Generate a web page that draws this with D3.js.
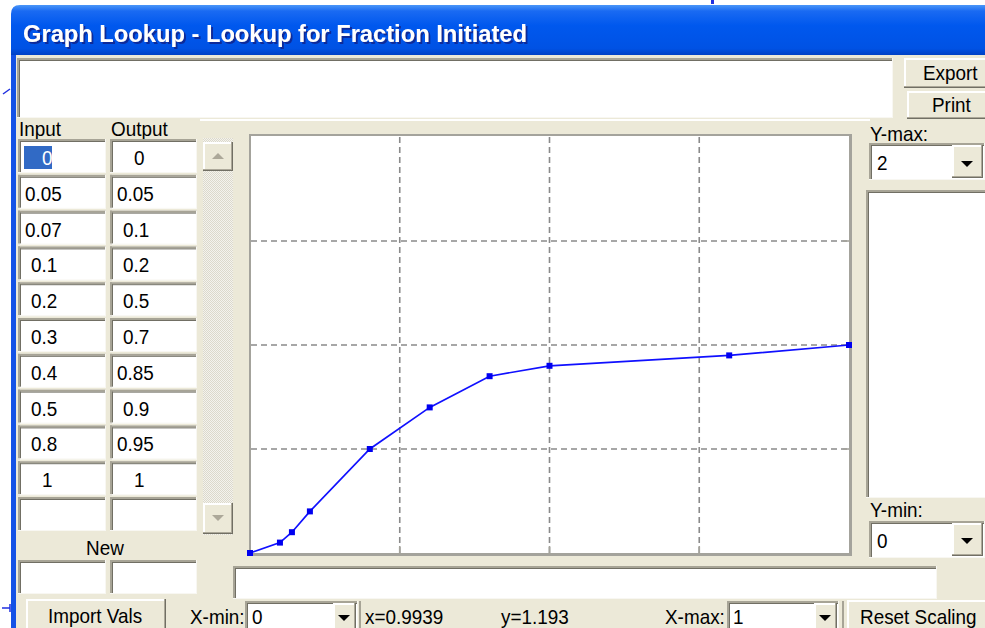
<!DOCTYPE html>
<html><head><meta charset="utf-8">
<script src="https://cdn.jsdelivr.net/npm/d3@7"></script>
<style>
html,body{margin:0;padding:0;background:#fff;overflow:hidden}
svg{display:block}
text{font-family:"Liberation Sans",Arial,sans-serif;font-size:21px;fill:#000}
</style></head><body>
<svg id="c" width="985" height="628"></svg>
<script>
// ---- data ----
const title = "Graph Lookup - Lookup for Fraction Initiated";
const inputs = [0, 0.05, 0.07, 0.1, 0.2, 0.3, 0.4, 0.5, 0.8, 1];
const outputs = [0, 0.05, 0.1, 0.2, 0.5, 0.7, 0.85, 0.9, 0.95, 1];
const xDomain = [0, 1];
const yDomain = [0, 2];
const xGrid = [0.25, 0.5, 0.75];
const yGrid = [0.5, 1, 1.5];
const xMinLabel = "0", xMaxLabel = "1", yMaxLabel = "2", yMinLabel = "0";
const readouts = ["x=0.9939", "y=1.193"];
const columnHeads = ["Input", "Output"];
const buttonLabels = ["Export", "Print", "Import Vals", "Reset Scaling"];
const fieldLabels = ["X-min:", "X-max:", "Y-max:", "Y-min:", "New"];

// ---- helpers ----
const svg = d3.select('#c');
const BG = '#ECE9D8';
const defs = svg.append('defs');

function R(x, y, w, h, fill) {
  return svg.append('rect').attr('x', x).attr('y', y).attr('width', w).attr('height', h).attr('fill', fill);
}
function T(x, y, s, o = {}) {
  const t = svg.append('text').attr('transform', `translate(${x},${y}) scale(${o.sx || 0.9},1)`).text(s);
  if (o.fill) t.style('fill', o.fill);
  if (o.size) t.style('font-size', o.size + 'px');
  if (o.weight) t.style('font-weight', o.weight);
  return t;
}
function sunken(x, y, w, h) {
  R(x, y, w, h, '#fff');
  R(x, y, w, 2, '#A7A496'); R(x, y, 2, h, '#A7A496');
  R(x + 2, y + 2, w - 3, 1, '#716F64'); R(x + 2, y + 2, 1, h - 3, '#716F64');
  R(x, y + h - 1, w, 1, '#F8F7F2'); R(x + w - 1, y, 1, h, '#F8F7F2');
}
function raised(x, y, w, h) {
  R(x, y, w, h, BG);
  R(x, y, w, 2, '#fff'); R(x, y, 2, h, '#fff');
  R(x, y + h - 2, w, 1, '#ACA899'); R(x + w - 2, y, 1, h, '#ACA899');
  R(x, y + h - 1, w, 1, '#716F64'); R(x + w - 1, y, 1, h, '#716F64');
}
function tri(cx, cy, up, color) {
  const p = up ? `M${cx - 6},${cy + 3}L${cx + 6},${cy + 3}L${cx},${cy - 3}Z`
               : `M${cx - 6},${cy - 3}L${cx + 6},${cy - 3}L${cx},${cy + 3}Z`;
  svg.append('path').attr('d', p).attr('fill', color);
}

// ---- window chrome ----
R(0, 0, 985, 628, '#fff');
const tg = defs.append('linearGradient').attr('id', 'tb').attr('x1', 0).attr('y1', 0).attr('x2', 0).attr('y2', 1);
[[0, '#4A96F8'], [0.12, '#1A6AF2'], [0.4, '#0058EE'], [0.85, '#0052E4'], [1, '#003EC0']]
  .forEach(([o, c]) => tg.append('stop').attr('offset', o).attr('stop-color', c));
const sh = defs.append('filter').attr('id', 'sh').attr('x', '-5%').attr('y', '-30%').attr('width', '110%').attr('height', '160%');
sh.append('feDropShadow').attr('dx', 2).attr('dy', 2).attr('stdDeviation', 0.4).attr('flood-color', '#0A2A9A').attr('flood-opacity', 1);
svg.append('path').attr('d', 'M11,56 L11,14 Q11,5 20,5 L985,5 L985,56 Z').attr('fill', 'url(#tb)');
R(11, 55, 5, 573, '#1452E6');
R(16, 55, 969, 573, BG);
// small stray marks outside window
svg.append('path').attr('d', 'M3,94 L10,89').attr('stroke', '#2030E0').attr('stroke-width', 1.5);
svg.append('path').attr('d', 'M2,608 L10,608 M10,604 L10,612').attr('stroke', '#2030E0').attr('stroke-width', 1.5);
R(711, 0, 3, 4, '#2030E0');

T(23, 42, title, { fill: '#fff', weight: 'bold', size: 23, sx: 1 })
  .attr('textLength', 504).attr('lengthAdjust', 'spacingAndGlyphs').attr('filter', 'url(#sh)');

// top text box + buttons
sunken(17, 58, 876, 60);
R(200, 119, 670, 2, '#fff');
raised(904, 58, 84, 30); T(923, 80, buttonLabels[0]);
raised(907, 91, 81, 28); T(932, 112, buttonLabels[1]);

// ---- table ----
T(19, 136, columnHeads[0]);
T(111, 136, columnHeads[1]);
const rowPitch = 35.8;
const off = s => s.length >= 4 ? 7 : (s.length === 3 ? 13 : 24);
for (let k = 0; k < 11; k++) {
  const yy = 139 + rowPitch * k;
  sunken(18, yy, 88, 34);
  sunken(110, yy, 87, 34);
}
inputs.forEach((v, k) => {
  const s = String(v), base = 165 + rowPitch * k;
  if (k === 0) { R(24, 146, 28, 23, '#316AC5'); T(18 + off(s), base, s, { fill: '#fff' }); }
  else T(18 + off(s), base, s);
});
outputs.forEach((v, k) => {
  const s = String(v), base = 165 + rowPitch * k;
  T(110 + off(s), base, s);
});
T(86, 555, fieldLabels[4]);
sunken(18, 560, 88, 34);
sunken(110, 560, 87, 34);

// scrollbar
const pat = defs.append('pattern').attr('id', 'chk').attr('width', 2).attr('height', 2).attr('patternUnits', 'userSpaceOnUse');
pat.append('rect').attr('width', 2).attr('height', 2).attr('fill', '#F4F3EE');
pat.append('rect').attr('width', 1).attr('height', 1).attr('fill', '#DCD9CB');
pat.append('rect').attr('x', 1).attr('y', 1).attr('width', 1).attr('height', 1).attr('fill', '#DCD9CB');
R(203, 138, 30, 397, 'url(#chk)');
raised(203, 142, 30, 29); tri(218, 156, true, '#ACA899');
raised(203, 503, 30, 31); tri(218, 518, false, '#ACA899');

// ---- plot ----
const x = d3.scaleLinear().domain(xDomain).range([250, 849]);
const y = d3.scaleLinear().domain(yDomain).range([553, 137]);
R(249, 134, 603, 422, '#A4A39C');
R(251, 136, 598, 417, '#fff');
const plot = svg.append('g');
xGrid.forEach(t => {
  plot.append('line').attr('x1', x(t)).attr('x2', x(t)).attr('y1', 137).attr('y2', 553)
    .attr('stroke', '#8A8A8A').attr('stroke-width', 1.6).attr('stroke-dasharray', '6,4');
  plot.append('line').attr('x1', x(t)).attr('x2', x(t)).attr('y1', 553).attr('y2', 546)
    .attr('stroke', '#A4A39C').attr('stroke-width', 1.6);
});
yGrid.forEach(t => {
  plot.append('line').attr('x1', 251).attr('x2', 849).attr('y1', y(t)).attr('y2', y(t))
    .attr('stroke', '#8A8A8A').attr('stroke-width', 1.6).attr('stroke-dasharray', '6,4');
  plot.append('line').attr('x1', 849).attr('x2', 843).attr('y1', y(t)).attr('y2', y(t))
    .attr('stroke', '#A4A39C').attr('stroke-width', 1.6);
});
const pts = inputs.map((v, i) => [v, outputs[i]]);
plot.append('path').datum(pts)
  .attr('d', d3.line().x(d => x(d[0])).y(d => y(d[1])))
  .attr('fill', 'none').attr('stroke', '#1010FF').attr('stroke-width', 1.7);
plot.selectAll('rect.m').data(pts).enter().append('rect').attr('class', 'm')
  .attr('x', d => x(d[0]) - 3).attr('y', d => y(d[1]) - 3).attr('width', 6).attr('height', 6)
  .attr('fill', '#0000F0');

// ---- right panel ----
T(870, 141, fieldLabels[2]);
sunken(869, 143, 116, 37); T(877, 170, yMaxLabel);
raised(952, 145, 31, 33); tri(967, 164, false, '#000');
sunken(866, 190, 120, 308);
T(870, 517, fieldLabels[3]);
sunken(869, 521, 116, 37); T(877, 548, yMinLabel);
raised(952, 523, 31, 33); tri(967, 541, false, '#000');

// ---- bottom ----
sunken(233, 566, 704, 33);
raised(26, 599, 140, 32); T(48, 623, buttonLabels[2]);
T(190, 624, fieldLabels[0]);
sunken(245, 601, 113, 30); T(252, 624, xMinLabel);
raised(333, 603, 23, 28); tri(344, 618, false, '#000');
R(359, 601, 2, 27, '#A7A496');
T(365, 624, readouts[0]);
T(501, 624, readouts[1]);
T(665, 624, fieldLabels[1]);
sunken(727, 601, 112, 30); T(733, 624, xMaxLabel);
raised(814, 603, 23, 28); tri(825, 618, false, '#000');
R(842, 601, 2, 27, '#A7A496');
raised(847, 600, 140, 31); T(860, 624, buttonLabels[3]);
</script>
</body></html>
